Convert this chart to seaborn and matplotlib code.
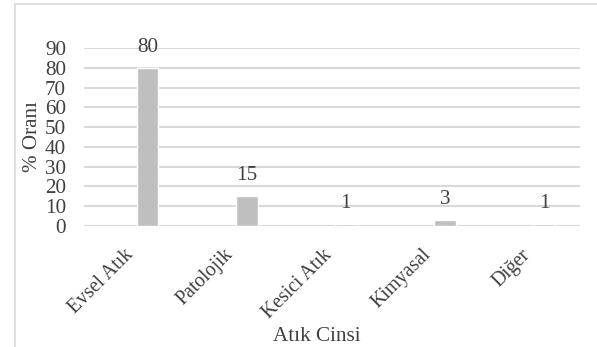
import matplotlib
matplotlib.use("Agg")
import matplotlib.pyplot as plt
import seaborn as sns
import pandas as pd
from matplotlib.patches import Rectangle

categories = ["Evsel Atık", "Patolojik", "Kesici Atık", "Kimyasal", "Diğer"]
values = [80, 15, 1, 3, 1]
y_ticks = [0, 10, 20, 30, 40, 50, 60, 70, 80, 90]

df = pd.DataFrame({"cins": categories, "oran": values})

sns.set_theme(style="white")
plt.rcParams["font.family"] = ["Liberation Serif", "DejaVu Serif"]

FS = 15.2
FS_X = 14.2
TXT = "#404040"

fig = plt.figure(figsize=(5.97, 3.47), dpi=100)
ax = fig.add_axes([84 / 597, 1 - 226 / 347, 496 / 597, 178 / 347])

# chart frame (open to the right and bottom)
fig.patches.append(Rectangle((15 / 597, -0.1), 1.2, (1 - 4 / 347) + 0.1,
                             transform=fig.transFigure, fill=False,
                             edgecolor="#d9d9d9", linewidth=1.2, zorder=0))

sns.barplot(data=df, x="cins", y="oran", color="#bfbfbf", width=0.22,
            saturation=1, ax=ax, zorder=3)

ax.set_ylim(0, 90)
ax.set_xlim(-0.64, 4.36)
ax.set_yticks(y_ticks)
ax.yaxis.grid(True, color="#d9d9d9", linewidth=1.5)
ax.set_axisbelow(True)
for s in ax.spines.values():
    s.set_visible(False)

ax.set_xticks([i - 0.1 for i in range(len(categories))])
ax.set_xticklabels(categories, rotation=45, ha="right", fontsize=FS_X, color=TXT)
ax.tick_params(axis="x", length=0, pad=14)
ax.tick_params(axis="y", length=0, pad=13, labelsize=FS, labelcolor=TXT)

for i, v in enumerate(values):
    ax.annotate(str(v), xy=(i, v), xytext=(0, 8), textcoords="offset points",
                ha="center", va="bottom", fontsize=FS, color=TXT)

ax.set_ylabel("% Oranı", fontsize=FS, color=TXT)
ax.yaxis.set_label_coords(-0.085, 0.5)
ax.set_xlabel("Atık Cinsi", fontsize=FS, color=TXT)
ax.xaxis.set_label_coords(0.47, -0.57)

fig.savefig("out.png", dpi=100)
